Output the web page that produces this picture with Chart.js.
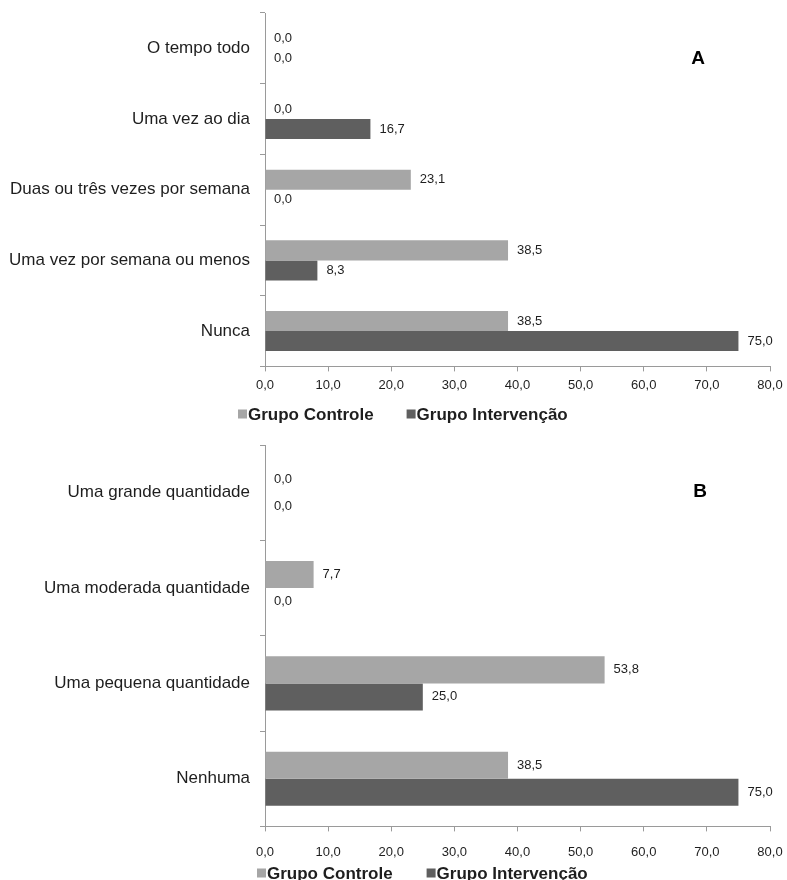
<!DOCTYPE html>
<html>
<head>
<meta charset="utf-8">
<script src="https://cdn.jsdelivr.net/npm/chart.js@4.4.0/dist/chart.umd.min.js"></script>
<style>
  html, body { margin: 0; padding: 0; background: #fff; overflow: hidden; }
  .box { position: absolute; left: 0; width: 787px; }
  #boxA { top: 0; height: 432px; }
  #boxB { top: 432px; height: 448px; }
</style>
</head>
<body>
<div class="box" id="boxA"><canvas id="chartA"></canvas></div>
<div class="box" id="boxB"><canvas id="chartB"></canvas></div>
<script>
// Panel A: frequency
var categoriesA = ['O tempo todo', 'Uma vez ao dia', 'Duas ou três vezes por semana', 'Uma vez por semana ou menos', 'Nunca'];
var controleA = [0.0, 0.0, 23.1, 38.5, 38.5];
var intervencaoA = [0.0, 16.7, 0.0, 8.3, 75.0];

// Panel B: amount
var categoriesB = ['Uma grande quantidade', 'Uma moderada quantidade', 'Uma pequena quantidade', 'Nenhuma'];
var controleB = [0.0, 7.7, 53.8, 38.5];
var intervencaoB = [0.0, 0.0, 25.0, 75.0];

var seriesNames = ['Grupo Controle', 'Grupo Intervenção'];
var axisMax = 80;
var axisStep = 10;

var FONT = '"Liberation Sans", Arial, sans-serif';
var LIGHT = '#a6a6a6';
var DARK = '#5f5f5f';
var AXIS = '#9a9a9a';
var TEXT = '#1e1e1e';

function fmt(v) {
  return Number(v).toFixed(1).replace('.', ',');
}

// value labels just past the end of each bar
var barValues = {
  id: 'barValues',
  afterDatasetsDraw: function(chart) {
    var ctx = chart.ctx;
    ctx.save();
    ctx.font = '13px ' + FONT;
    ctx.fillStyle = TEXT;
    ctx.textAlign = 'left';
    ctx.textBaseline = 'middle';
    chart.data.datasets.forEach(function(ds, i) {
      chart.getDatasetMeta(i).data.forEach(function(bar, j) {
        ctx.fillText(fmt(ds.data[j]), bar.x + 9, bar.y);
      });
    });
    ctx.restore();
  }
};

// panel letter and the legend row under the axis
var panelExtras = {
  id: 'panelExtras',
  afterDraw: function(chart, args, opts) {
    var ctx = chart.ctx;
    ctx.save();
    ctx.font = 'bold 19px ' + FONT;
    ctx.fillStyle = '#000';
    ctx.textAlign = 'center';
    ctx.textBaseline = 'middle';
    ctx.fillText(opts.letter, opts.letterX, opts.letterY);

    ctx.font = 'bold 17px ' + FONT;
    ctx.textAlign = 'left';
    var x = opts.legendX;
    chart.data.datasets.forEach(function(ds) {
      ctx.fillStyle = ds.backgroundColor;
      ctx.fillRect(x, opts.legendY - 4.5, 9, 9);
      ctx.fillStyle = TEXT;
      ctx.fillText(ds.label, x + 10, opts.legendY + 1);
      x += 10 + ctx.measureText(ds.label).width + opts.legendGap;
    });
    ctx.restore();
  }
};

function makeChart(id, cats, ctrl, interv, cfg) {
  return new Chart(document.getElementById(id), {
    type: 'bar',
    data: {
      labels: cats,
      datasets: [
        { label: seriesNames[0], data: ctrl, backgroundColor: LIGHT, borderWidth: 0 },
        { label: seriesNames[1], data: interv, backgroundColor: DARK, borderWidth: 0 }
      ]
    },
    options: {
      indexAxis: 'y',
      responsive: true,
      maintainAspectRatio: false,
      animation: false,
      layout: { padding: cfg.padding },
      datasets: { bar: { categoryPercentage: 0.567, barPercentage: 1 } },
      plugins: {
        legend: { display: false },
        tooltip: { enabled: false },
        panelExtras: cfg.extras
      },
      scales: {
        x: {
          min: 0,
          max: axisMax,
          ticks: {
            stepSize: axisStep,
            padding: cfg.tickPad,
            color: TEXT,
            font: { family: FONT, size: 13 },
            callback: function(v) { return fmt(v); }
          },
          grid: { drawOnChartArea: false, tickLength: 5, color: AXIS },
          border: { color: AXIS },
          afterFit: function(scale) { scale.paddingLeft = 0; scale.paddingRight = 0; }
        },
        y: {
          ticks: { padding: 10, color: TEXT, font: { family: FONT, size: 17 } },
          grid: { drawOnChartArea: false, tickLength: 5, color: AXIS, offset: true },
          border: { color: AXIS },
          afterFit: function(scale) {
            scale.width = 265;
            scale.paddingTop = 0;
            scale.paddingBottom = 0;
          }
        }
      }
    },
    plugins: [barValues, panelExtras]
  });
}

makeChart('chartA', categoriesA, controleA, intervencaoA, {
  padding: { top: 13, right: 17, bottom: 33, left: 0 },
  tickPad: 6,
  extras: { letter: 'A', letterX: 698, letterY: 59, legendX: 238, legendY: 414, legendGap: 33 }
});

makeChart('chartB', categoriesB, controleB, intervencaoB, {
  padding: { top: 13, right: 17, bottom: 7, left: 0 },
  tickPad: 13,
  extras: { letter: 'B', letterX: 700, letterY: 60, legendX: 257, legendY: 441, legendGap: 34 }
});
</script>
</body>
</html>
